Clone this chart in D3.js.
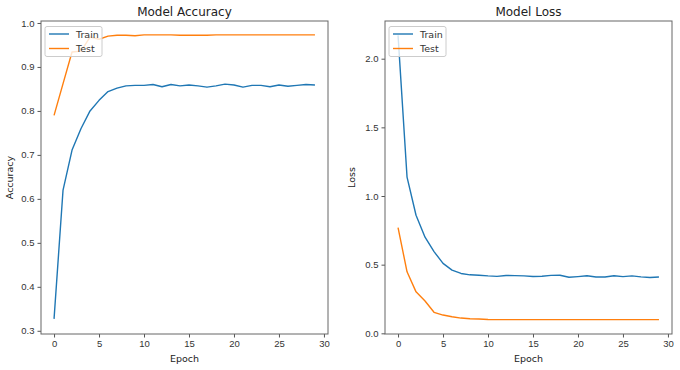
<!DOCTYPE html>
<html>
<head>
<meta charset="utf-8">
<script src="https://cdn.jsdelivr.net/npm/d3@7"></script>
<style>
  body { margin: 0; background: #fff; }
  svg { font-family: "DejaVu Sans", sans-serif; }
</style>
</head>
<body>
<div class="canva"></div>
<script>
// data
const epochs = d3.range(30);
const accTrain = [0.327, 0.620, 0.711, 0.760, 0.800, 0.824, 0.844, 0.852, 0.857, 0.858,
                  0.858, 0.860, 0.855, 0.860, 0.857, 0.859, 0.857, 0.854, 0.857, 0.861,
                  0.859, 0.854, 0.858, 0.858, 0.855, 0.859, 0.856, 0.858, 0.860, 0.859];
const accTest = [0.790, 0.862, 0.934, 0.936, 0.968, 0.963, 0.970, 0.972, 0.972, 0.971,
                 0.973, 0.973, 0.973, 0.973, 0.972, 0.972, 0.972, 0.972, 0.973, 0.973,
                 0.973, 0.973, 0.973, 0.973, 0.973, 0.973, 0.973, 0.973, 0.973, 0.973];
const lossTrain = [2.170, 1.138, 0.860, 0.700, 0.595, 0.509, 0.460, 0.436, 0.426, 0.423,
                   0.418, 0.415, 0.421, 0.420, 0.418, 0.414, 0.416, 0.422, 0.423, 0.408,
                   0.413, 0.419, 0.410, 0.410, 0.419, 0.413, 0.418, 0.411, 0.407, 0.410];
const lossTest = [0.770, 0.448, 0.302, 0.235, 0.153, 0.133, 0.121, 0.111, 0.106, 0.104,
                  0.101, 0.100, 0.100, 0.100, 0.100, 0.100, 0.100, 0.100, 0.100, 0.100,
                  0.100, 0.100, 0.100, 0.100, 0.100, 0.100, 0.100, 0.100, 0.100, 0.100];
const xTicks = [0, 5, 10, 15, 20, 25, 30];
const accTicks = [0.3, 0.4, 0.5, 0.6, 0.7, 0.8, 0.9, 1.0];
const lossTicks = [0.0, 0.5, 1.0, 1.5, 2.0];
const seriesNames = ['Train', 'Test'];
const colors = ['#1f77b4', '#ff7f0e'];

const svg = d3.select('.canva').append('svg')
    .attr('width', 680)
    .attr('height', 370);

function panel(opts) {
    const x = d3.scaleLinear().domain([-1.45, 30.45]).range([opts.left, opts.right]);
    const y = d3.scaleLinear().domain(opts.ydom).range([opts.bottom, opts.top]);
    const g = svg.append('g');

    // lines
    const line = d3.line().x((d, i) => x(epochs[i])).y(d => y(d));
    opts.series.forEach((s, k) => {
        g.append('path')
            .attr('d', line(s))
            .attr('fill', 'none')
            .attr('stroke', colors[k])
            .attr('stroke-width', 1.4)
            .attr('stroke-linejoin', 'round');
    });

    // axes
    const xa = g.append('g')
        .attr('transform', `translate(0,${opts.bottom})`)
        .call(d3.axisBottom(x).tickValues(xTicks).tickSize(3.5).tickPadding(3).tickFormat(d3.format('d')));
    const ya = g.append('g')
        .attr('transform', `translate(${opts.left},0)`)
        .call(d3.axisLeft(y).tickValues(opts.yticks).tickSize(3.5).tickPadding(3).tickFormat(d3.format('.1f')));
    [xa, ya].forEach(a => {
        a.select('.domain').remove();
        a.selectAll('line').attr('stroke', '#555');
        a.selectAll('text').attr('fill', '#333').style('font-size', '9.5px');
    });

    // frame
    g.append('rect')
        .attr('x', opts.left).attr('y', opts.top)
        .attr('width', opts.right - opts.left).attr('height', opts.bottom - opts.top)
        .attr('fill', 'none').attr('stroke', '#666').attr('stroke-width', 1);

    // titles
    g.append('text')
        .attr('x', (opts.left + opts.right) / 2).attr('y', 16)
        .attr('text-anchor', 'middle').attr('fill', '#222')
        .style('font-size', '12px').text(opts.title);
    g.append('text')
        .attr('x', (opts.left + opts.right) / 2).attr('y', 362)
        .attr('text-anchor', 'middle').attr('fill', '#222')
        .style('font-size', '9.5px').text('Epoch');
    g.append('text')
        .attr('transform', `translate(${opts.ylabX},${(opts.top + opts.bottom) / 2}) rotate(-90)`)
        .attr('text-anchor', 'middle').attr('fill', '#222')
        .style('font-size', '9.5px').text(opts.ylabel);

    // legend
    const lg = g.append('g').attr('transform', `translate(${opts.left + 4},26.5)`);
    lg.append('rect')
        .attr('width', 57).attr('height', 30).attr('rx', 2)
        .attr('fill', '#fff').attr('fill-opacity', 0.8)
        .attr('stroke', '#ccc');
    seriesNames.forEach((n, k) => {
        const yy = 7.5 + k * 14.5;
        lg.append('line')
            .attr('x1', 4).attr('x2', 24).attr('y1', yy).attr('y2', yy)
            .attr('stroke', colors[k]).attr('stroke-width', 1.4);
        lg.append('text')
            .attr('x', 31).attr('y', yy + 3.5)
            .attr('fill', '#333').style('font-size', '9.5px').text(n);
    });
}

panel({
    left: 41, right: 328, top: 21, bottom: 334,
    ydom: [0.2927, 1.0045], yticks: accTicks,
    series: [accTrain, accTest],
    title: 'Model Accuracy', ylabel: 'Accuracy', ylabX: 13
});

panel({
    left: 385, right: 672, top: 21, bottom: 334,
    ydom: [-0.005, 2.2745], yticks: lossTicks,
    series: [lossTrain, lossTest],
    title: 'Model Loss', ylabel: 'Loss', ylabX: 355
});
</script>
</body>
</html>
